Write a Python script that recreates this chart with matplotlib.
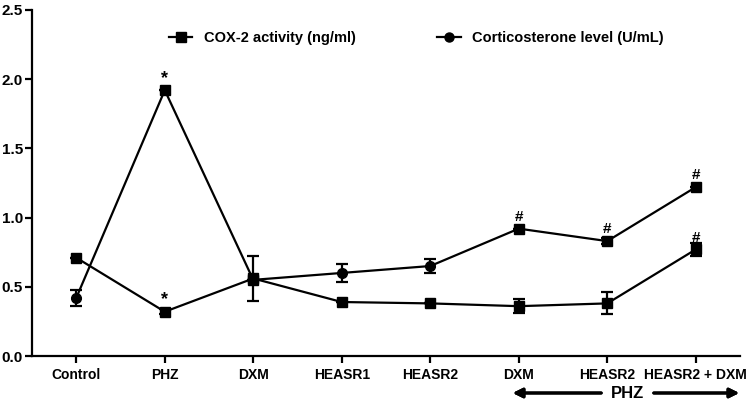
import matplotlib
matplotlib.use("Agg")
import matplotlib.pyplot as plt
from matplotlib.lines import Line2D

plt.rcParams['font.family'] = ['Liberation Sans', 'DejaVu Sans']
plt.rcParams['font.weight'] = 'bold'

categories = ['Control', 'PHZ', 'DXM', 'HEASR1', 'HEASR2', 'DXM', 'HEASR2', 'HEASR2 + DXM']

# two polylines as drawn in the figure
line_a = [0.71, 0.32, 0.56, 0.39, 0.38, 0.36, 0.38, 0.77]
line_a_err = [0.0, 0.02, 0.16, 0.0, 0.0, 0.05, 0.08, 0.045]
line_a_marks = ['s', 's', 's', 's', 's', 's', 's', 's']

line_b = [0.42, 1.92, 0.55, 0.60, 0.65, 0.92, 0.83, 1.22]
line_b_err = [0.06, 0.0, 0.0, 0.065, 0.05, 0.0, 0.02, 0.0]
line_b_marks = ['o', 's', 's', 'o', 'o', 's', 's', 's']

stars = [(1, 1.92), (1, 0.32)]
hashes = [(5, 0.92), (6, 0.83), (7, 1.22), (7, 0.77)]

fig = plt.figure(figsize=(7.5, 4.03), dpi=100)
ax = fig.add_axes([0.0427, 0.1166, 0.944, 0.8588])

x = list(range(len(categories)))
for vals, errs, marks in [(line_a, line_a_err, line_a_marks), (line_b, line_b_err, line_b_marks)]:
    ax.plot(x, vals, color='black', lw=1.6, zorder=2)
    ax.errorbar(x, vals, yerr=errs, fmt='none', ecolor='black', elinewidth=1.6,
                capsize=4, capthick=1.6, zorder=3)
    for xi, v, m in zip(x, vals, marks):
        ax.plot(xi, v, marker=m, color='black', ms=6.5 if m == 's' else 7, zorder=4)

for xi, v in stars:
    ax.text(xi, v + 0.025, '*', ha='center', va='bottom', fontsize=13)
for xi, v in hashes:
    ax.text(xi, v + 0.035, '#', ha='center', va='bottom', fontsize=11, fontweight='bold')

ax.set_xlim(-0.5, 7.5)
ax.set_ylim(0, 2.5)
ax.set_yticks([0.0, 0.5, 1.0, 1.5, 2.0, 2.5])
ax.set_yticklabels(['0.0', '0.5', '1.0', '1.5', '2.0', '2.5'], fontsize=11, fontweight='bold')
ax.set_xticks(x)
ax.set_xticklabels(categories, fontsize=10, fontweight='bold')
ax.spines['top'].set_visible(False)
ax.spines['right'].set_visible(False)
ax.spines['left'].set_linewidth(1.6)
ax.spines['bottom'].set_linewidth(1.6)
ax.tick_params(width=1.6, length=5)
ax.tick_params(axis='y', pad=1.5)

handles = [Line2D([], [], color='black', lw=1.6, marker='s', ms=6.5),
           Line2D([], [], color='black', lw=1.6, marker='o', ms=6.5)]
ax.legend(handles, ['COX-2 activity (ng/ml)', 'Corticosterone level (U/mL)'], ncol=2,
          loc='center', bbox_to_anchor=(0.543, 0.918), frameon=False,
          handlelength=1.6, columnspacing=5.6, prop={'weight': 'bold', 'size': 10.5})

# PHZ arrow under the last three groups
fig.text(627 / 750, 1 - 393 / 403, 'PHZ', ha='center', va='center', fontsize=12, fontweight='bold')
arrow = dict(arrowstyle='-|>', color='black', lw=2.2, mutation_scale=14)
fig.add_artist(plt.annotate('', xy=(510 / 750, 1 - 393 / 403), xytext=(604 / 750, 1 - 393 / 403),
                            xycoords='figure fraction', arrowprops=arrow))
fig.add_artist(plt.annotate('', xy=(742 / 750, 1 - 393 / 403), xytext=(651 / 750, 1 - 393 / 403),
                            xycoords='figure fraction', arrowprops=arrow))

fig.savefig('out.png', dpi=100)
